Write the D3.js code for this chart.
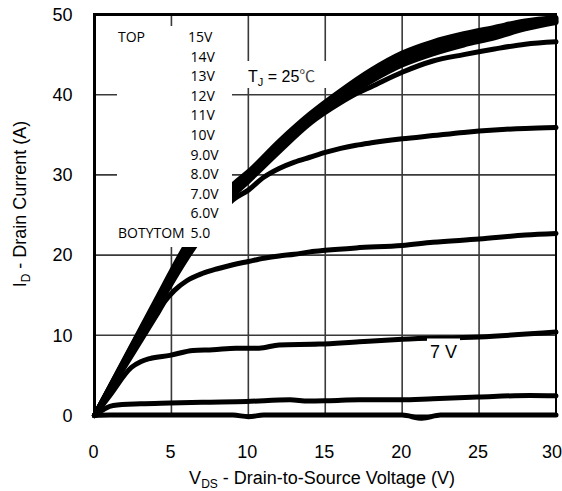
<!DOCTYPE html>
<html><head><meta charset="utf-8">
<script src="https://cdn.jsdelivr.net/npm/d3@7"></script>
<style>html,body{margin:0;padding:0;background:#fff;}svg{display:block;}</style>
</head><body>
<svg id="chart" width="562" height="491"></svg>
<script>
// ---- data ----
const xTicks = [0, 5, 10, 15, 20, 25, 30];
const yTicks = [0, 10, 20, 30, 40, 50];
const legendNames = ["15V", "14V", "13V", "12V", "11V", "10V", "9.0V", "8.0V", "7.0V", "6.0V", "5.0"];

const vgs15 = [[0,0],[2,7.2],[4,14.4],[6,21.4],[7,24.2],[8,26.6],[9,28.8],[10,30.4],[12,34.2],[14,37.6],[16,40.5],[18,43.1],[20,45.2],[22,46.6],[24,47.6],[26,48.4],[28,49.2],[30,49.6]];
const vgs14 = [[0,0],[2,7.1],[4,14.2],[6,21.1],[7,23.9],[8,26.35],[9,28.55],[10,30.2],[12,33.95],[14,37.35],[16,40.2],[18,42.75],[20,44.8],[22,46.2],[24,47.25],[26,48.1],[28,48.95],[30,49.45]];
const vgs13 = [[0,0],[2,7.0],[4,14.0],[6,20.85],[7,23.65],[8,26.1],[9,28.3],[10,29.95],[12,33.7],[14,37.1],[16,39.9],[18,42.4],[20,44.45],[22,45.85],[24,46.9],[26,47.75],[28,48.7],[30,49.3]];
const vgs12 = [[0,0],[2,6.9],[4,13.8],[6,20.6],[7,23.4],[8,25.85],[9,28.05],[10,29.7],[12,33.45],[14,36.85],[16,39.6],[18,42.05],[20,44.1],[22,45.5],[24,46.55],[26,47.4],[28,48.45],[30,49.15]];
const vgs11 = [[0,0],[2,6.8],[4,13.6],[6,20.3],[7,23.1],[8,25.6],[9,27.8],[10,29.5],[12,33.2],[14,36.6],[16,39.3],[18,41.7],[20,43.7],[22,45.1],[24,46.2],[26,47.1],[28,48.2],[30,49.0]];
const vgs10 = [[0,0],[2,6.7],[4,13.4],[6,20.0],[7,22.8],[8,25.2],[9,27.4],[10,29.2],[12,32.9],[14,36.4],[16,39.0],[17,40.1],[18,41.0],[20,42.8],[22,44.2],[24,45.0],[26,45.7],[28,46.3],[30,46.6]];
const vgs9  = [[0,0],[2,6.6],[4,13.2],[6,19.6],[7,22.4],[8,24.9],[9,26.9],[10,28.1],[11,29.7],[12,30.8],[13,31.6],[14,32.2],[15,32.8],[16,33.3],[17,33.7],[18,34.0],[20,34.5],[22,34.9],[24,35.3],[26,35.6],[28,35.8],[30,35.9]];
const vgs8  = [[0,0],[2,6.2],[4,12.4],[4.6,14.3],[5.2,15.6],[6,16.8],[7,17.7],[8,18.3],[9,18.8],[10,19.2],[11,19.6],[12,19.9],[13,20.1],[14,20.4],[15,20.6],[17,20.9],[20,21.2],[22,21.6],[25,22.0],[28,22.5],[30,22.7]];
const vgs7  = [[0,0],[1,2.5],[2.4,6.0],[3,6.7],[3.6,7.1],[4.9,7.5],[6.4,8.1],[7.7,8.2],[9.2,8.4],[10.7,8.4],[12,8.8],[14.6,8.9],[17.2,9.2],[20,9.5],[25,9.8],[30,10.4]];
const vgs6  = [[0,0],[1.22,1.25],[3,1.45],[4.9,1.55],[7,1.65],[9.9,1.75],[12.7,1.95],[13.9,1.8],[15.3,1.85],[17.2,1.95],[19.9,1.95],[22,2.1],[24.9,2.3],[28.3,2.5],[30,2.45]];
const vgs5  = [[0,0],[1,0.05],[5,0.05],[9,0.05],[10,-0.15],[11,0.05],[20,0.05],[21.3,-0.35],[22.5,0.05],[30,0.05]];

const series = [vgs5, vgs6, vgs7, vgs8, vgs9, vgs10, vgs11, vgs12, vgs13, vgs14, vgs15];

// ---- layout ----
const svg = d3.select("#chart");
const L = 94.5, R = 556, T = 14.5, B = 415.5;
const x = d3.scaleLinear().domain([0, 30]).range([L, R]);
const y = d3.scaleLinear().domain([0, 50]).range([B, T]);
const tickFont = "'Liberation Sans', Arial, Helvetica, sans-serif";

// grid
const grid = svg.append("g");
grid.selectAll("line.v").data(xTicks.slice(1, -1)).enter().append("line")
  .attr("x1", d => x(d)).attr("x2", d => x(d)).attr("y1", T).attr("y2", B)
  .attr("stroke", "#3a3a3a").attr("stroke-width", 1.6);
grid.selectAll("line.h").data(yTicks.slice(1, -1)).enter().append("line")
  .attr("y1", d => y(d)).attr("y2", d => y(d)).attr("x1", L).attr("x2", R)
  .attr("stroke", "#3a3a3a").attr("stroke-width", 1.6);

// curves
const line = d3.line().x(d => x(d[0])).y(d => y(d[1])).curve(d3.curveMonotoneX);
svg.append("g").selectAll("path").data(series).enter().append("path")
  .attr("d", line).attr("fill", "none").attr("stroke", "#000")
  .attr("stroke-width", 5).attr("stroke-linejoin", "round").attr("stroke-linecap", "round");

// white label boxes
svg.append("rect").attr("x", 117).attr("y", 26).attr("width", 115).attr("height", 221).attr("fill", "#fff");
svg.append("rect").attr("x", 232).attr("y", 61).attr("width", 97).attr("height", 27).attr("fill", "#fff");
svg.append("rect").attr("x", 427).attr("y", 338.5).attr("width", 33).attr("height", 27).attr("fill", "#fff");

// frame
svg.append("line").attr("x1", L - 1.5).attr("x2", R + 1).attr("y1", T).attr("y2", T).attr("stroke", "#000").attr("stroke-width", 3);
svg.append("line").attr("x1", L).attr("x2", L).attr("y1", T).attr("y2", B + 1).attr("stroke", "#000").attr("stroke-width", 3);
svg.append("line").attr("x1", R).attr("x2", R).attr("y1", T).attr("y2", B).attr("stroke", "#000").attr("stroke-width", 2);
svg.append("line").attr("x1", L).attr("x2", R).attr("y1", B).attr("y2", B).attr("stroke", "#000").attr("stroke-width", 2);

// axes (labels only)
const xAxis = svg.append("g").attr("transform", `translate(0,${B})`)
  .call(d3.axisBottom(x).tickValues(xTicks).tickSize(0).tickPadding(30).tickFormat(d3.format("d")));
xAxis.select(".domain").remove();
xAxis.selectAll("text").attr("font-family", tickFont).attr("font-size", 18).attr("fill", "#000")
  .attr("x", d => d === 30 ? -4.5 : -1.5);

const yAxis = svg.append("g").attr("transform", `translate(${L},0)`)
  .call(d3.axisLeft(y).tickValues(yTicks).tickSize(0).tickPadding(22).tickFormat(d3.format("d")));
yAxis.select(".domain").remove();
yAxis.selectAll("text").attr("font-family", tickFont).attr("font-size", 18).attr("fill", "#000");

// axis titles
const xt = svg.append("text").attr("x", 322).attr("y", 484).attr("text-anchor", "middle")
  .attr("font-family", tickFont).attr("font-size", 18).attr("fill", "#000");
xt.append("tspan").text("V");
xt.append("tspan").attr("font-size", 12).attr("dy", 4).text("DS");
xt.append("tspan").attr("dy", -4).text(" - Drain-to-Source Voltage (V)");

const yt = svg.append("text").attr("transform", "translate(26,204) rotate(-90)").attr("text-anchor", "middle")
  .attr("font-family", tickFont).attr("font-size", 18).attr("fill", "#000");
yt.append("tspan").text("I");
yt.append("tspan").attr("font-size", 12).attr("dy", 4).text("D");
yt.append("tspan").attr("dy", -4).text(" - Drain Current (A)");

// legend
const legFont = "'Open Sans', 'Noto Sans', sans-serif";
const lg = svg.append("g").attr("font-family", legFont).attr("font-size", 14).attr("fill", "#000");
lg.append("text").attr("x", 118).attr("y", 42).text("TOP");
lg.append("text").attr("x", 118).attr("y", 238).text("BOTYTOM");
lg.selectAll("text.v").data(legendNames).enter().append("text")
  .attr("x", (d, i) => i === 0 ? 188 : 190.5)
  .attr("y", (d, i) => 42 + i * 19.6)
  .text(d => d);

// TJ label
const tj = svg.append("text").attr("x", 248).attr("y", 82).attr("font-family", tickFont).attr("font-size", 16).attr("fill", "#000");
tj.append("tspan").text("T");
tj.append("tspan").attr("font-size", 11).attr("dy", 4).text("J");
tj.append("tspan").attr("dy", -4).text(" = 25");
tj.append("tspan").attr("font-family", "'Noto Sans CJK SC', sans-serif").attr("fill", "#444").text("℃");

// 7 V label
svg.append("text").attr("x", 430).attr("y", 358).attr("font-family", tickFont).attr("font-size", 18).attr("fill", "#000").text("7 V");
</script>
</body></html>
